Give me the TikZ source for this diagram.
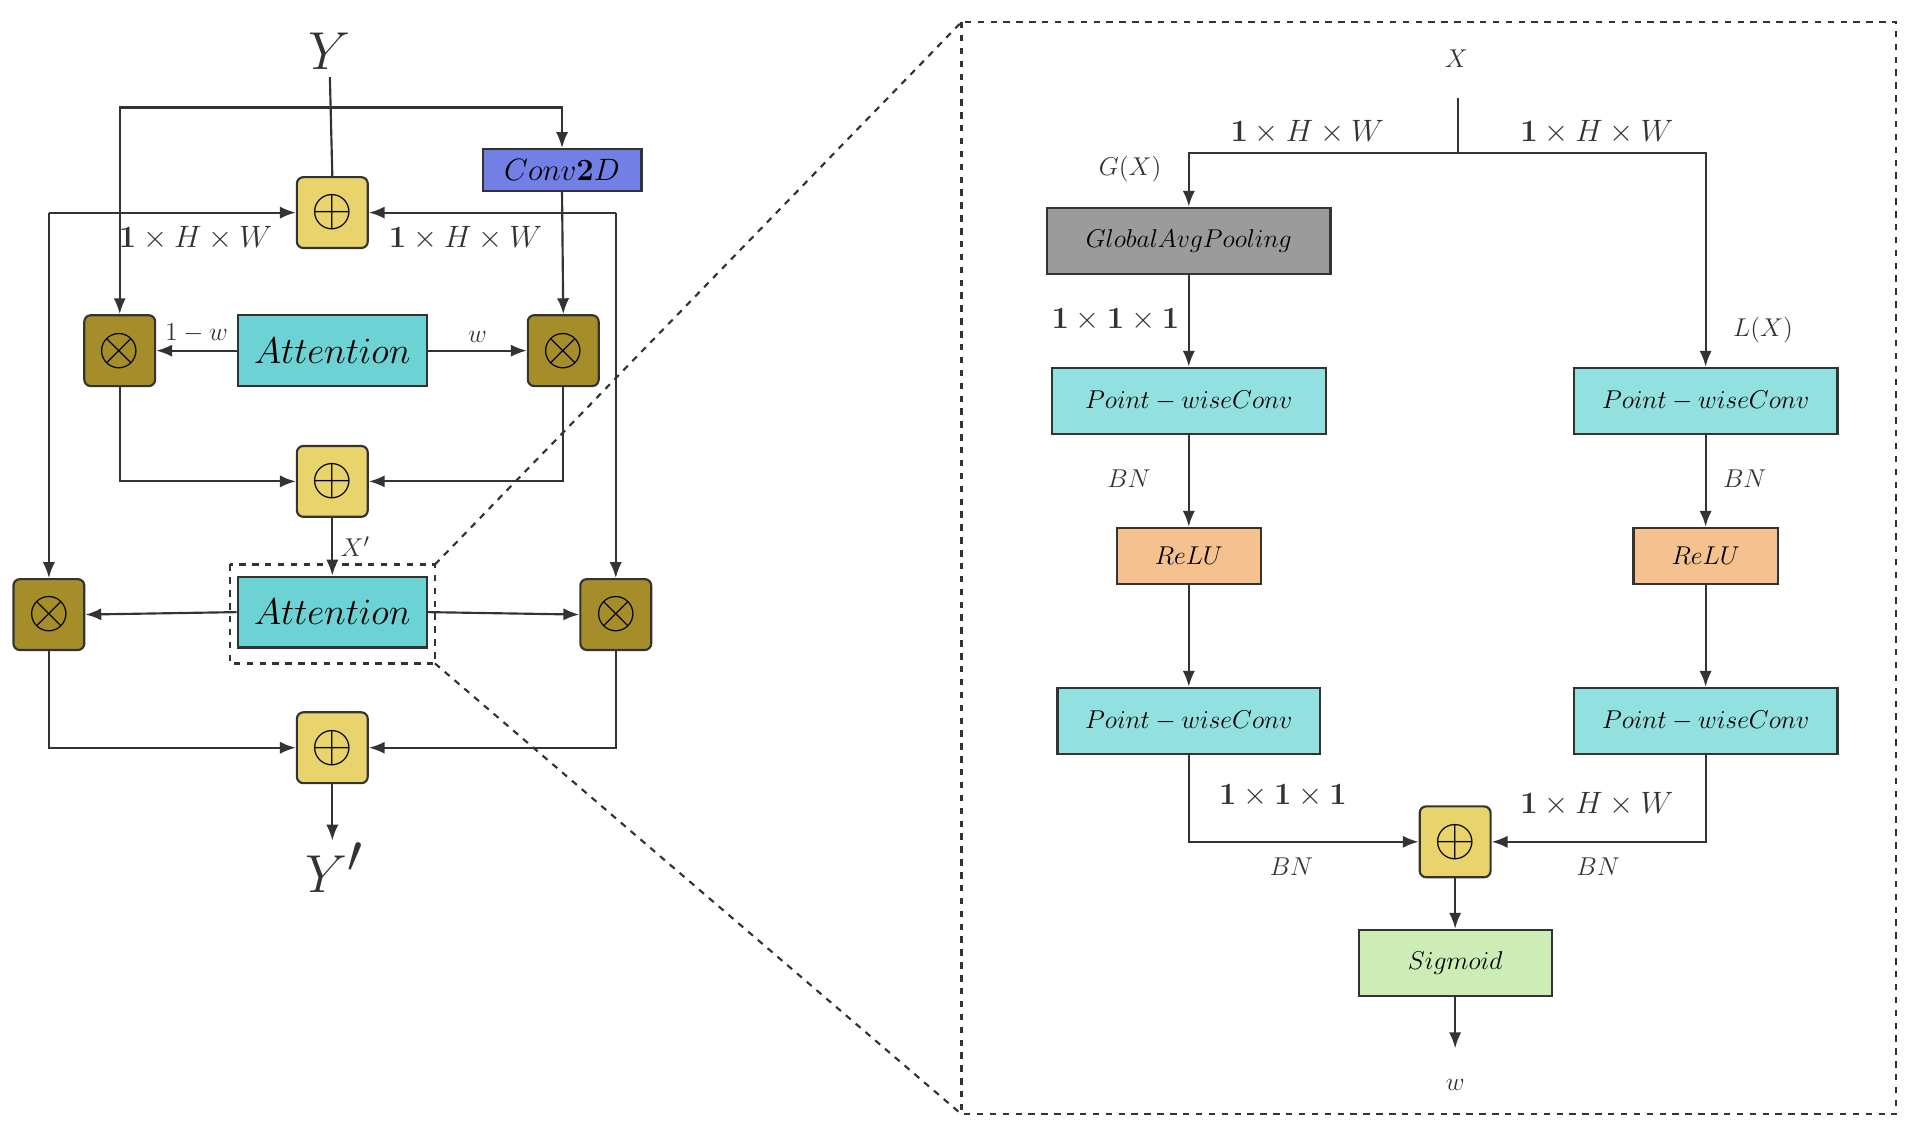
\documentclass[tikz,border=0pt]{standalone}
\usepackage{amsmath,amssymb}
\usepackage{tikz}
\usetikzlibrary{arrows.meta}
\definecolor{plusy}{HTML}{E9D46C}
\definecolor{olive}{HTML}{A58E2A}
\definecolor{attc}{HTML}{6DD2D4}
\definecolor{convc}{HTML}{7280E6}
\definecolor{pwc}{HTML}{92E0E0}
\definecolor{reluc}{HTML}{F4C18F}
\definecolor{gapc}{HTML}{9B9B9B}
\definecolor{sigc}{HTML}{CDEDB6}
\definecolor{ln}{HTML}{333333}
\tikzset{
  opbox/.style={draw=ln,line width=1pt,rounded corners=3pt,minimum width=1.16cm,minimum height=1.16cm,inner sep=0pt},
  plusbox/.style={opbox,fill=plusy,font=\fontsize{30}{30}\selectfont},
  timesbox/.style={opbox,fill=olive,font=\fontsize{30}{30}\selectfont},
  blk/.style={draw=ln,line width=1pt,inner sep=0pt},
  arr/.style={draw=ln,line width=1pt,-{Latex[length=2.6mm,width=2mm]}},
  lin/.style={draw=ln,line width=1pt},
  lab/.style={font=\fontsize{13}{13}\selectfont,text=ln},
}
\begin{document}
\begin{tikzpicture}[x=0.02cm,y=-0.02cm]
\useasboundingbox (0,0) rectangle (1560,930);

% left part
\node[text=ln,font=\fontsize{34}{34}\selectfont] (Y) at (270,42) {$Y$};
\node[plusbox] (P1) at (272,174) {$\oplus$};
\node[blk,fill=convc,minimum width=2.6cm,minimum height=0.68cm,font=\fontsize{15}{15}\selectfont] (C) at (460,139) {$Conv\mathbf{2}D$};
\node[timesbox] (T1) at (98,287) {$\otimes$};
\node[timesbox] (T2) at (461,287) {$\otimes$};
\node[blk,fill=attc,minimum width=3.1cm,minimum height=1.16cm,font=\fontsize{18}{18}\selectfont] (A1) at (272,287) {$Attention$};
\node[plusbox] (P2) at (272,394) {$\oplus$};
\node[blk,fill=attc,minimum width=3.1cm,minimum height=1.16cm,font=\fontsize{18}{18}\selectfont] (A2) at (272,501) {$Attention$};
\node[timesbox] (T3) at (40,503) {$\otimes$};
\node[timesbox] (T4) at (504,503) {$\otimes$};
\node[plusbox] (P3) at (272,612) {$\oplus$};
\node[text=ln,font=\fontsize{34}{34}\selectfont] (Yp) at (274,710) {$Y'$};

\draw[lin] (Y.south) -- (P1.north);
\draw[arr] (270,88) -| (T1.north);
\draw[arr] (270,88) -| (C.north);
\draw[arr] (C.south) -- (T2.north);
\draw[arr] (40,174) -- (P1.west);
\draw[arr] (40,174) -- (T3.north);
\draw[arr] (504,174) -- (P1.east);
\draw[arr] (504,174) -- (T4.north);
\node[lab,font=\fontsize{14}{14}\selectfont] at (160,195) {$\mathbf{1}\times H\times W$};
\node[lab,font=\fontsize{14}{14}\selectfont] at (381,195) {$\mathbf{1}\times H\times W$};
\draw[arr] (A1.west) -- node[lab,above] {$1-w$} (T1.east);
\draw[arr] (A1.east) -- node[lab,above] {$w$} (T2.west);
\draw[arr] (T1.south) |- (P2.west);
\draw[arr] (T2.south) |- (P2.east);
\draw[arr] (P2.south) -- node[lab,right] {$X'$} (A2.north);
\draw[line width=1pt,dashed,draw=ln] (188,462) rectangle (356,543);
\draw[arr] (A2.west) -- (T3.east);
\draw[arr] (A2.east) -- (T4.west);
\draw[arr] (T3.south) |- (P3.west);
\draw[arr] (T4.south) |- (P3.east);
\draw[arr] (P3.south) -- (272,688);

% zoom
\draw[line width=1pt,dashed,draw=ln] (356,462) -- (787,18);
\draw[line width=1pt,dashed,draw=ln] (356,543) -- (787,912);
\draw[line width=1pt,dashed,draw=ln] (787,18) rectangle (1552,912);

% right part
\tikzset{rbox/.style={blk,minimum height=1.08cm,font=\fontsize{13}{13}\selectfont}}
\node[lab] (X) at (1192,48) {$X$};
\node[rbox,fill=gapc,minimum width=4.64cm] (G) at (973,197) {$GlobalAvgPooling$};
\node[rbox,fill=pwc,minimum width=4.48cm] (W1) at (973,328) {$Point-wiseConv$};
\node[rbox,fill=reluc,minimum width=2.36cm,minimum height=0.92cm] (R1) at (973,455) {$ReLU$};
\node[rbox,fill=pwc,minimum width=4.3cm] (W2) at (973,590) {$Point-wiseConv$};
\node[rbox,fill=pwc,minimum width=4.32cm] (W3) at (1396,328) {$Point-wiseConv$};
\node[rbox,fill=reluc,minimum width=2.36cm,minimum height=0.92cm] (R2) at (1396,455) {$ReLU$};
\node[rbox,fill=pwc,minimum width=4.32cm] (W4) at (1396,590) {$Point-wiseConv$};
\node[plusbox] (P4) at (1191,689) {$\oplus$};
\node[rbox,fill=sigc,minimum width=3.16cm] (S) at (1191,788) {$Sigmoid$};
\node[lab] (w) at (1191,888) {$w$};
\coordinate (Xs) at (1193,80);
\coordinate (Xj) at (1193,125);

\draw[lin] (Xs) -- (Xj);
\draw[arr] (Xj) -| (G.north);
\draw[arr] (Xj) -| (W3.north);
\node[lab,font=\fontsize{14}{14}\selectfont] at (1070,108) {$\mathbf{1}\times H\times W$};
\node[lab,font=\fontsize{14}{14}\selectfont] at (1307,108) {$\mathbf{1}\times H\times W$};
\node[lab] at (925,138) {$G(X)$};
\node[lab] at (1443,270) {$L(X)$};
\draw[arr] (G.south) -- (W1.north);
\node[lab,font=\fontsize{14}{14}\selectfont] at (913,262) {$\mathbf{1}\times\mathbf{1}\times\mathbf{1}$};
\draw[arr] (W1.south) -- (R1.north);
\node[lab] at (924,392) {$BN$};
\draw[arr] (R1.south) -- (W2.north);
\draw[arr] (W3.south) -- (R2.north);
\node[lab] at (1428,392) {$BN$};
\draw[arr] (R2.south) -- (W4.north);
\draw[arr] (W2.south) |- (P4.west);
\node[lab,font=\fontsize{14}{14}\selectfont] at (1050,651) {$\mathbf{1}\times\mathbf{1}\times\mathbf{1}$};
\node[lab] at (1057,709) {$BN$};
\draw[arr] (W4.south) |- (P4.east);
\node[lab,font=\fontsize{14}{14}\selectfont] at (1307,658) {$\mathbf{1}\times H\times W$};
\node[lab] at (1308,709) {$BN$};
\draw[arr] (P4.south) -- (S.north);
\draw[arr] (S.south) -- (1191,858);
\end{tikzpicture}
\end{document}
